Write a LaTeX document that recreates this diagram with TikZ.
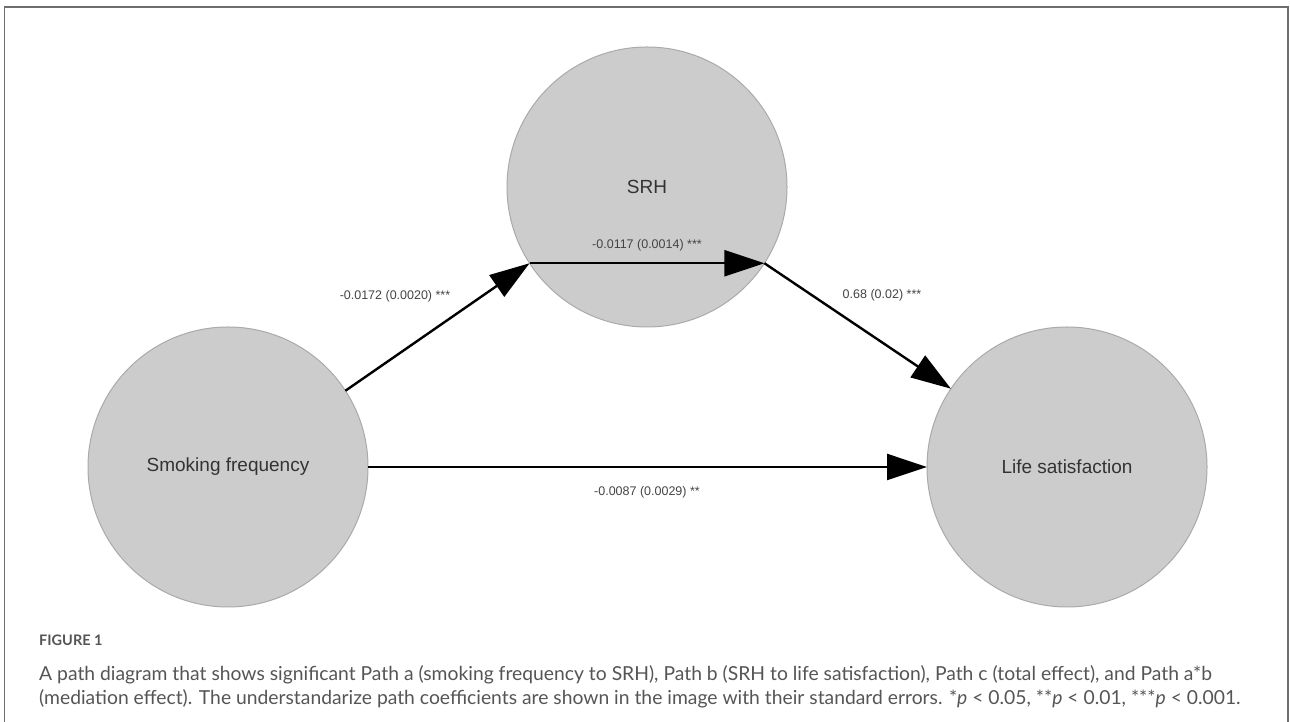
\documentclass[tikz,border=0pt]{standalone}
\usepackage{fontspec}
\setmainfont{Liberation Sans}
\newfontfamily\capfont{Lato}
\usetikzlibrary{arrows.meta}
\definecolor{nodefill}{RGB}{204,204,204}
\definecolor{nodeline}{RGB}{170,170,170}
\definecolor{labtext}{RGB}{68,68,68}
\definecolor{captext}{RGB}{85,85,85}
\definecolor{framecol}{RGB}{110,110,110}
\begin{document}
\begin{tikzpicture}[x=1pt,y=1pt,
  var/.style={circle, fill=nodefill, draw=nodeline, line width=1pt,
    minimum size=280pt, inner sep=0pt, outer sep=0pt,
    font=\fontsize{19}{22}\selectfont, text=black!80},
  effect/.style={line width=2.4pt, -{Triangle[length=40pt,width=26pt]}},
  coef/.style={font=\fontsize{12.5}{15}\selectfont, text=labtext, inner sep=0pt},
  capline/.style={anchor=west, inner sep=0pt, font=\capfont\fontsize{19.3}{22}\selectfont, text=captext}]
\useasboundingbox (0,0) rectangle (1290,722);
% frame
\draw[framecol, line width=1.5pt] (4.5,-2) -- (4.5,715) -- (1288,715) -- (1288,-2);
% variables
\node[var] (smoke) at (228,255) {Smoking frequency};
\node[var] (srh)   at (647,535) {SRH};
\node[var] (life)  at (1067,255) {Life satisfaction};
% paths
\draw[effect] (smoke.33.75) -- (srh.213.75);
\draw[effect] (srh.213.75) -- (srh.-33.75);
\draw[effect] (srh.-33.75) -- (life.146.25);
\draw[effect] (smoke.east) -- (life.west);
% coefficients
\node[coef] (la)  at (395,426) {-0.0172 (0.0020) ***};
\node[coef] (lab) at (647,477) {-0.0117 (0.0014) ***};
\node[coef] (lb)  at (882,427) {0.68 (0.02) ***};
\node[coef] (lc)  at (647,230) {-0.0087 (0.0029) **};
% caption
\node[capline, font=\capfont\bfseries\fontsize{14.5}{16}\selectfont] (fig) at (39,82) {FIGURE 1};
\node[capline] (cap1) at (39,47) {A path diagram that shows significant Path a (smoking frequency to SRH), Path b (SRH to life satisfaction), Path c (total effect), and Path a*b};
\node[capline] (cap2) at (39,23) {(mediation effect). The understandarize path coefficients are shown in the image with their standard errors. *\textit{p} < 0.05, **\textit{p} < 0.01, ***\textit{p} < 0.001.};
\end{tikzpicture}
\end{document}
